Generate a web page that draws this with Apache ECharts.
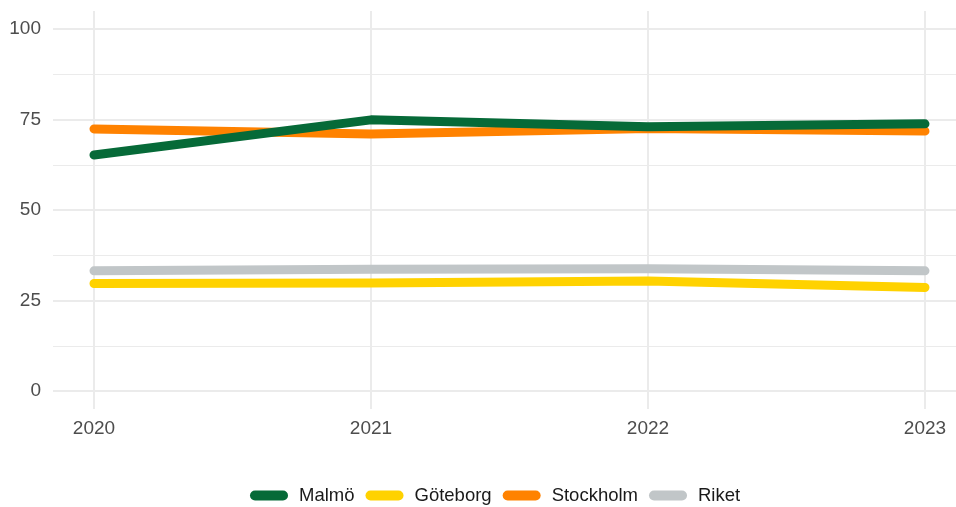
<!DOCTYPE html>
<html>
<head>
<meta charset="utf-8">
<script src="https://cdn.jsdelivr.net/npm/echarts@6/dist/echarts.min.js"></script>
<style>
  html, body { margin: 0; padding: 0; background: #fff; }
  #chart { width: 956px; height: 507px; }
</style>
</head>
<body>
<div id="chart"></div>
<script>
// data
var years = [2020, 2021, 2022, 2023];
var malmo = [65.2, 74.9, 73.0, 73.8];
var goteborg = [29.7, 29.8, 30.4, 28.6];
var stockholm = [72.4, 71.0, 72.5, 71.8];
var riket = [33.2, 33.6, 33.8, 33.2];
var seriesNames = ['Malmö', 'Göteborg', 'Stockholm', 'Riket'];
var seriesColors = ['#066a38', '#ffd200', '#ff8200', '#c1c6c8'];
var yTicks = [0, 25, 50, 75, 100];

var dom = document.getElementById('chart');
var myChart = echarts.init(dom);

function pairs(vals) {
    return years.map(function (y, i) { return [y, vals[i]]; });
}

var allValues = [malmo, goteborg, stockholm, riket];
// draw order: Malmö on top
var zOrder = [4, 1, 2, 1];

var series = seriesNames.map(function (name, i) {
    return {
        name: name,
        type: 'line',
        xAxisIndex: 1,
        yAxisIndex: 1,
        data: pairs(allValues[i]),
        showSymbol: false,
        symbol: 'none',
        clip: false,
        z: zOrder[i],
        color: seriesColors[i],
        lineStyle: { width: 9, color: seriesColors[i], cap: 'round', join: 'round' }
    };
});

// x range with ggplot-like expansion, clipped at the right edge
var xMin = 2019.852, xMax = 2023.112;

var option = {
    animation: false,
    backgroundColor: '#fff',
    textStyle: { fontFamily: '"Liberation Sans", Arial, sans-serif' },
    grid: [
        // outer panel: vertical grid lines + year labels
        { left: 53, right: 0, top: 11, bottom: 98 },
        // inner panel: y scale 0..100
        { left: 53, right: 0, top: 29, bottom: 116 }
    ],
    xAxis: [
        {
            gridIndex: 0,
            type: 'value',
            min: xMin,
            max: xMax,
            axisLine: { show: false },
            axisTick: { show: false, customValues: years },
            axisLabel: {
                color: '#4d4d4d',
                fontSize: 19,
                lineHeight: 19,
                margin: 10,
                customValues: years,
                formatter: function (v) { return String(Math.round(v)); }
            },
            splitLine: { show: true, lineStyle: { color: '#ebebeb', width: 2 } }
        },
        {
            gridIndex: 1,
            type: 'value',
            min: xMin,
            max: xMax,
            show: false,
            splitLine: { show: false }
        }
    ],
    yAxis: [
        { gridIndex: 0, type: 'value', min: -5, max: 105, show: false, splitLine: { show: false } },
        {
            gridIndex: 1,
            type: 'value',
            min: yTicks[0],
            max: yTicks[yTicks.length - 1],
            interval: 25,
            axisLine: { show: false },
            axisTick: { show: false },
            axisLabel: { color: '#4d4d4d', fontSize: 19, margin: 12 },
            splitLine: { show: true, lineStyle: { color: '#ebebeb', width: 2 } },
            minorTick: { show: false, splitNumber: 2 },
            minorSplitLine: { show: true, lineStyle: { color: '#ebebeb', width: 1.2 } }
        }
    ],
    legend: {
        data: seriesNames,
        left: 245,
        top: 481,
        itemWidth: 38,
        itemHeight: 10,
        itemGap: 11,
        icon: 'path://M5,0 L33,0 A5,5 0 0 1 33,10 L5,10 A5,5 0 0 1 5,0 Z',
        textStyle: { color: '#1a1a1a', fontSize: 18.5, padding: [0, 0, 0, 6] }
    },
    series: series
};

if (option && typeof option === 'object') {
    myChart.setOption(option, true);
}
</script>
</body>
</html>
